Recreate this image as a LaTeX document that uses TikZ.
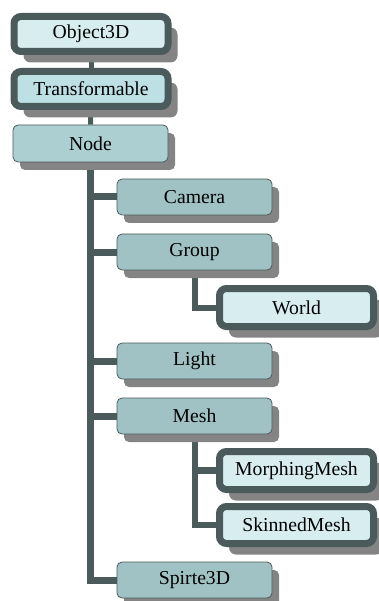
\documentclass[tikz,border=0pt]{standalone}
\usepackage{fontspec}
\setmainfont{Liberation Serif}
\usetikzlibrary{shadows,backgrounds}
\definecolor{rim}{HTML}{4B5B5B}
\definecolor{shade}{HTML}{848484}
\definecolor{palefill}{HTML}{D8EDF0}
\definecolor{transfill}{HTML}{BDE0E4}
\definecolor{basefill}{HTML}{ACCFD1}
\definecolor{kidfill}{HTML}{A0C2C4}
\begin{document}
\begin{tikzpicture}[x=1pt,y=-1pt,font=\fontsize{19.7}{22}\selectfont,
    plate/.style={rectangle,draw=rim,inner sep=0pt,minimum height=36pt},
    box/.style={plate,rounded corners=5pt,line width=0.8pt,fill=kidfill,
      minimum width=155pt,
      drop shadow={shadow xshift=7pt,shadow yshift=-8pt,fill=shade,opacity=1}},
    thickbox/.style={plate,rounded corners=7pt,line width=7pt,fill=palefill,
      minimum width=154pt,
      drop shadow={shadow xshift=9.5pt,shadow yshift=-11pt,fill=shade,opacity=1}},
    link/.style={draw=rim,line width=7pt},
    thinlink/.style={draw=rim,line width=5pt}]
  \useasboundingbox (0,0) rectangle (378,601);
  % chain at the top
  \node[thickbox,minimum height=35pt] (obj) at (91,34) {Object3D};
  \node[thickbox,minimum height=35pt,fill=transfill] (trans) at (91,89) {Transformable};
  \node[box,fill=basefill,minimum height=37pt] (node) at (90.5,143.5) {Node};
  % children of Node
  \node[box] (camera) at (194.5,197) {Camera};
  \node[box] (group)  at (194.5,252) {Group};
  \node[thickbox,minimum height=38pt] (world) at (296.5,307.5) {World};
  \node[box] (light)  at (194.5,361) {Light};
  \node[box] (mesh)   at (194.5,416) {Mesh};
  \node[thickbox,minimum height=38pt] (morph)   at (296.5,470.5) {MorphingMesh};
  \node[thickbox,minimum height=37pt] (skinned) at (296.5,525) {SkinnedMesh};
  \node[box] (sprite) at (194.5,580) {Spirte3D};
  % connectors
  \begin{scope}[on background layer]
    \draw[thinlink] (obj) -- (trans);
    \draw[thinlink] (trans) -- (node);
    \draw[link] (node.south) |- (sprite.west);
    \foreach \kid in {camera,group,light,mesh}
      {\draw[link] (node.south |- \kid.west) -- (\kid.west);}
    \draw[link,line width=6pt] (group.south) |- (world.west);
    \draw[link,line width=6pt] (mesh.south) |- (skinned.west);
    \draw[link] (mesh.south |- morph.west) -- (morph.west);
  \end{scope}
\end{tikzpicture}
\end{document}
